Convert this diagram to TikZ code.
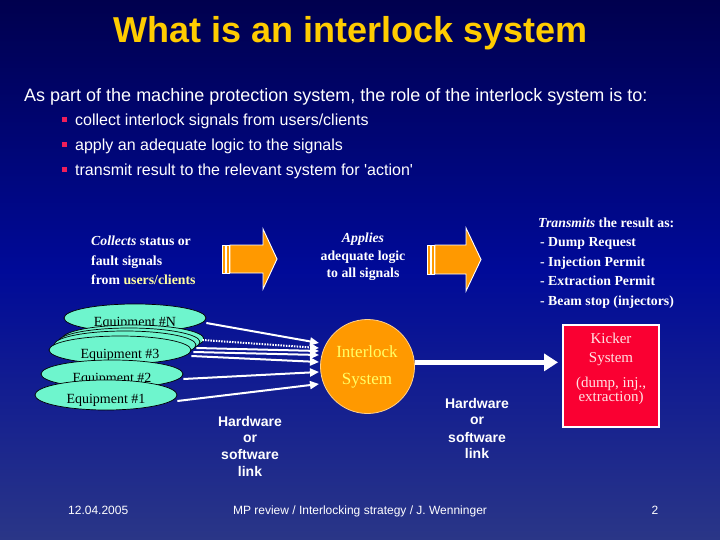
\documentclass[tikz,border=0pt]{standalone}
\usepackage{fontspec}
\setmainfont{Liberation Serif}
\newfontfamily\ars{Liberation Sans}
\newfontfamily\tnr{Liberation Serif}
\usetikzlibrary{arrows.meta,calc,shapes.geometric}
\definecolor{bgtop}{RGB}{0,0,78}
\definecolor{bgmid}{RGB}{0,10,152}
\definecolor{bgbot}{RGB}{42,54,135}
\definecolor{ttl}{RGB}{255,204,0}
\definecolor{orng}{RGB}{255,153,0}
\definecolor{aqua}{RGB}{110,245,205}
\definecolor{kred}{RGB}{250,0,50}
\definecolor{ktxt}{RGB}{255,228,228}
\definecolor{ylw}{RGB}{255,255,102}
\definecolor{ltylw}{RGB}{255,255,160}
\definecolor{bred}{RGB}{240,30,90}
\newcommand\fTB{\tnr\bfseries\fontsize{13.8}{16}\selectfont}
\newcommand\fHW{\ars\bfseries\fontsize{14}{16}\selectfont}
\newcommand\fBL{\ars\fontsize{16}{18}\selectfont}
\newcommand\fKK{\tnr\fontsize{15}{17}\selectfont}
\begin{document}
\begin{tikzpicture}[x=1pt,y=-1pt,
  txt/.style={inner sep=0pt, text=white, anchor=base west},
  ctxt/.style={inner sep=0pt, text=white, anchor=base},
  equip/.style={ellipse, draw=black, line width=0.7pt, fill=aqua, minimum width=142pt, minimum height=28pt,
     inner sep=0pt, text height=17pt, text depth=0pt, font=\tnr\fontsize{14}{16}\selectfont},
  blockarrow/.style={fill=orng, draw=white, line width=0.9pt},
  sig/.style={draw=white, line width=2pt, -{Triangle[length=9pt,width=8pt]}},
  bul/.style={fill=bred}]
\useasboundingbox (0,0) rectangle (720,540);
\shade[top color=bgtop, bottom color=bgbot, middle color=bgmid] (0,0) rectangle (720,540);

% title and intro
\node[ctxt, text=ttl, font=\ars\bfseries\fontsize{36}{40}\selectfont] (title) at (350.5,43) {What is an interlock system};
\node[txt, font=\ars\fontsize{18}{20}\selectfont] (intro) at (24,102) {As part of the machine protection system, the role of the interlock system is to:};
\fill[bul] (62,117.5) rectangle (67,122.5);
\fill[bul] (62,142.5) rectangle (67,147.5);
\fill[bul] (62,167.5) rectangle (67,172.5);
\node[txt, font=\fBL] (b1) at (75,125.5) {collect interlock signals from users/clients};
\node[txt, font=\fBL] (b2) at (75,150.5) {apply an adequate logic to the signals};
\node[txt, font=\fBL] (b3) at (75,175.5) {transmit result to the relevant system for 'action'};

% collects block
\node[txt, font=\fTB] (c1) at (91,245) {\textit{Collects} status or};
\node[txt, font=\fTB] (c2) at (91,265) {fault signals};
\node[txt, font=\fTB] (c3) at (91,284) {from \textcolor{ltylw}{users/clients}};

% block arrows
\filldraw[blockarrow] (222,245) rectangle (225,273);
\filldraw[blockarrow] (226.5,245) rectangle (229.5,273);
\filldraw[blockarrow] (230,245) -- (263,245) -- (263,229) -- (277,259) -- (263,289) -- (263,273) -- (230,273) -- cycle;
\filldraw[blockarrow] (427,245) rectangle (430,274);
\filldraw[blockarrow] (431.5,245) rectangle (434.5,274);
\filldraw[blockarrow] (435,245) -- (466,245) -- (466,228) -- (481,259.5) -- (466,291) -- (466,274) -- (435,274) -- cycle;

% applies block
\node[ctxt, font=\fTB] (a1) at (363,243) {\textit{Applies}};
\node[ctxt, font=\fTB] (a2) at (363,260) {adequate logic};
\node[ctxt, font=\fTB] (a3) at (363,277) {to all signals};

% transmits block
\node[txt, font=\fTB] (r1) at (538,227) {\textit{Transmits} the result as:};
\node[txt, font=\fTB] (r2) at (540,247) {- Dump Request};
\node[txt, font=\fTB] (r3) at (540,266) {- Injection Permit};
\node[txt, font=\fTB] (r4) at (540,285) {- Extraction Permit};
\node[txt, font=\fTB] (r5) at (540,305) {- Beam stop (injectors)};

% equipment ellipses
\node[equip] (eqN) at (135,318) {Equipment \#N};
\node[equip] (st1) at (133,339) {};
\node[equip] (st2) at (129,342) {};
\node[equip] (st3) at (125,345) {};
\node[equip] (eq3) at (120,350) {Equipment \#3};
\node[equip] (eq2) at (112,374) {Equipment \#2};
\node[equip, minimum height=30pt] (eq1) at (106,395) {Equipment \#1};

% interlock circle
\node[circle, fill=orng, draw=white!55!orng, line width=0.8pt, minimum size=94pt, inner sep=0pt] (il) at (367.5,366.5) {};
\node[ctxt, text=ylw, font=\tnr\fontsize{17}{18}\selectfont] (il1) at (367,357) {Interlock};
\node[ctxt, text=ylw, font=\tnr\fontsize{17}{18}\selectfont] (il2) at (367,384) {System};

% signal arrows
\coordinate (t1) at (319,343);
\coordinate (t2) at (319,348);
\coordinate (t3) at (319,351);
\coordinate (t4) at (319,355);
\coordinate (t5) at (319,362);
\coordinate (t6) at (319,372);
\coordinate (t7) at (319,384);
\draw[sig] ([yshift=-5pt]eqN.east) -- (t1);
\draw[sig, dash pattern=on 1.5pt off 1.2pt] ([xshift=-2pt,yshift=-1pt]st1.east) -- (t2);
\draw[sig] ([xshift=-4pt,yshift=-6pt]st2.east) -- (t3);
\draw[sig] ([xshift=-3pt,yshift=-7pt]st3.east) -- (t4);
\draw[sig] ([yshift=-6pt]eq3.east) -- (t5);
\draw[sig] ([yshift=-5pt]eq2.east) -- (t6);
\draw[sig] ([yshift=-6pt]eq1.east) -- (t7);

% kicker
\node[rectangle, fill=kred, draw=white, line width=2pt, minimum width=96pt, minimum height=102pt, inner sep=0pt] (kick) at (611,376) {};
\node[ctxt, text=ktxt, font=\fKK] (k1) at (611,343) {Kicker};
\node[ctxt, text=ktxt, font=\fKK] (k2) at (611,362) {System};
\node[ctxt, text=ktxt, font=\fKK] (k3) at (611,387) {(dump, inj.,};
\node[ctxt, text=ktxt, font=\fKK] (k4) at (611,401) {extraction)};
\coordinate (ktip) at ([xshift=-4pt]kick.west |- il.5);
\draw[white, line width=5.5pt, -{Triangle[length=14pt,width=17pt]}] (il.5) -- (ktip);

% link labels
\node[ctxt, font=\fHW] (hl1) at (250,426) {Hardware};
\node[ctxt, font=\fHW] (hl2) at (250,442) {or};
\node[ctxt, font=\fHW] (hl3) at (250,459) {software};
\node[ctxt, font=\fHW] (hl4) at (250,476) {link};
\node[ctxt, font=\fHW] (hr1) at (477,408) {Hardware};
\node[ctxt, font=\fHW] (hr2) at (477,424) {or};
\node[ctxt, font=\fHW] (hr3) at (477,442) {software};
\node[ctxt, font=\fHW] (hr4) at (477,458) {link};

% footer
\node[txt, font=\ars\fontsize{12}{14}\selectfont] (date) at (68,514) {12.04.2005};
\node[ctxt, font=\ars\fontsize{12}{14}\selectfont] (foot) at (360,514) {MP review / Interlocking strategy / J. Wenninger};
\node[ctxt, font=\ars\fontsize{12}{14}\selectfont] (pg) at (655,514) {2};
\end{tikzpicture}
\end{document}
